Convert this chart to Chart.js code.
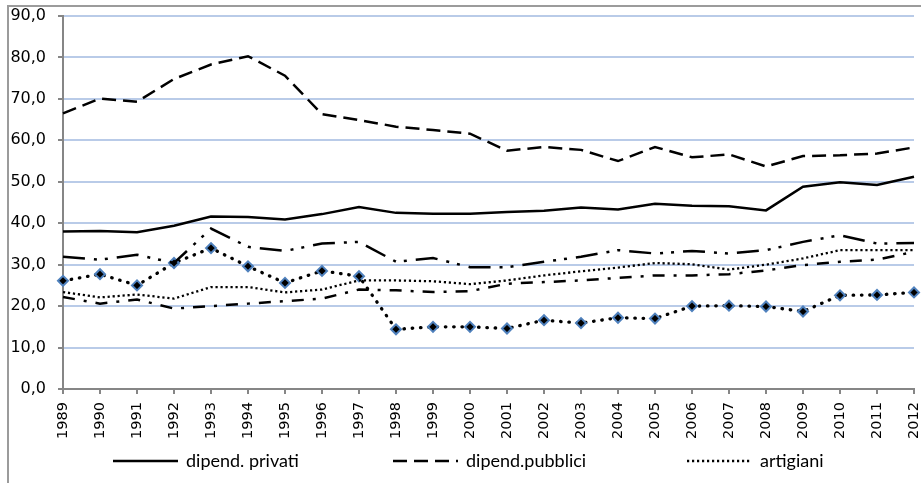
<!DOCTYPE html>
<html>
<head>
<meta charset="utf-8">
<script src="https://cdn.jsdelivr.net/npm/chart.js@4.4.1/dist/chart.umd.min.js"></script>
<style>
  html, body { margin: 0; padding: 0; background: #fff; overflow: hidden; }
  #wrap { position: relative; width: 921px; height: 483px; }
  #frame { position: absolute; left: 7px; top: 5px; width: 1000px; height: 1000px;
           border-top: 2px solid #9b9b9b; border-left: 2px solid #9b9b9b; }
  #myChart { position: absolute; left: 0; top: 0; }
</style>
</head>
<body>
<div id="wrap">
  <div id="frame"></div>
  <canvas id="myChart" width="921" height="483"></canvas>
</div>
<script>
// years on the x axis
var years = ['1989','1990','1991','1992','1993','1994','1995','1996','1997','1998','1999','2000',
             '2001','2002','2003','2004','2005','2006','2007','2008','2009','2010','2011','2012'];

// series
var dipendPrivati  = [38.0, 38.1, 37.8, 39.4, 41.6, 41.5, 40.9, 42.2, 43.9, 42.5, 42.3, 42.3,
                      42.7, 43.0, 43.8, 43.3, 44.7, 44.2, 44.1, 43.1, 48.8, 49.9, 49.2, 51.2];
var dipendPubblici = [66.5, 70.1, 69.3, 74.8, 78.3, 80.3, 75.6, 66.3, 64.9, 63.3, 62.5, 61.6,
                      57.5, 58.4, 57.7, 55.0, 58.4, 55.9, 56.6, 53.7, 56.2, 56.4, 56.8, 58.3];
var artigiani      = [23.4, 22.1, 22.8, 21.8, 24.6, 24.6, 23.3, 24.0, 26.2, 26.2, 26.0, 25.3,
                      26.2, 27.4, 28.4, 29.3, 30.4, 30.1, 28.8, 30.0, 31.5, 33.5, 33.5, 33.5];
var serieDashDotDot = [31.9, 31.2, 32.4, 30.4, 38.7, 34.3, 33.3, 35.1, 35.5, 30.7, 31.6, 29.4,
                       29.4, 30.7, 31.9, 33.5, 32.7, 33.3, 32.7, 33.5, 35.5, 37.1, 35.1, 35.2];
var serieDiamond   = [26.1, 27.7, 25.0, 30.4, 34.0, 29.6, 25.6, 28.5, 27.2, 14.4, 15.0, 15.0,
                      14.6, 16.6, 15.9, 17.2, 17.0, 20.0, 20.1, 19.9, 18.7, 22.6, 22.7, 23.3];
var serieDashDot   = [22.2, 20.6, 21.6, 19.4, 20.0, 20.6, 21.2, 21.8, 24.0, 23.8, 23.4, 23.6,
                      25.4, 25.8, 26.2, 26.8, 27.4, 27.4, 27.7, 28.6, 29.9, 30.7, 31.2, 33.1];

var yTicks = [0, 10, 20, 30, 40, 50, 60, 70, 80, 90];

// legend at the bottom (only the first row shows in the picture)
var legendShown = [0, 1, 2];
var legendX = [113, 393, 687];
var legendY = 461;

var bottomLegend = {
  id: 'bottomLegend',
  afterDraw: function(chart) {
    var ctx = chart.ctx;
    legendShown.forEach(function(idx, i) {
      var ds = chart.data.datasets[idx];
      var x = legendX[i];
      ctx.save();
      ctx.strokeStyle = ds.borderColor;
      ctx.lineWidth = ds.borderWidth;
      ctx.lineCap = ds.borderCapStyle || 'butt';
      ctx.setLineDash(ds.borderDash || []);
      ctx.beginPath();
      ctx.moveTo(x, legendY);
      ctx.lineTo(x + 65, legendY);
      ctx.stroke();
      ctx.setLineDash([]);
      ctx.fillStyle = '#000';
      ctx.font = '18px Lato';
      ctx.textBaseline = 'middle';
      ctx.fillText(ds.label, x + 73, legendY);
      ctx.restore();
    });
  }
};

var ctx = document.getElementById('myChart').getContext('2d');
var chart = new Chart(ctx, {
  type: 'line',
  data: {
    labels: years,
    datasets: [
      { label: 'dipend. privati', data: dipendPrivati, borderColor: '#000', borderWidth: 2.5,
        pointRadius: 0, tension: 0 },
      { label: 'dipend.pubblici', data: dipendPubblici, borderColor: '#000', borderWidth: 2.5,
        borderDash: [14, 7], pointRadius: 0, tension: 0 },
      { label: 'artigiani', data: artigiani, borderColor: '#000', borderWidth: 2.3,
        borderDash: [2.2, 2.8], pointRadius: 0, tension: 0 },
      { label: 'serie 4', data: serieDashDotDot, borderColor: '#000', borderWidth: 2.5,
        borderDash: [22, 9, 3, 8, 3, 9], pointRadius: 0, tension: 0 },
      { label: 'serie 5', data: serieDiamond, borderColor: '#000', borderWidth: 3.3,
        borderDash: [0.5, 7.8], borderCapStyle: 'round', tension: 0,
        pointStyle: 'rectRot', pointRadius: 5, pointBackgroundColor: '#000',
        pointBorderColor: '#4f81bd', pointBorderWidth: 2 },
      { label: 'serie 6', data: serieDashDot, borderColor: '#000', borderWidth: 2.5,
        borderDash: [12, 9, 3, 9], pointRadius: 0, tension: 0 }
    ]
  },
  options: {
    responsive: false,
    devicePixelRatio: 1,
    animation: false,
    layout: { padding: { top: 16, right: 7, bottom: 36.1, left: 7 } },
    plugins: {
      legend: { display: false },
      tooltip: { enabled: false }
    },
    scales: {
      x: {
        offset: false,
        // drop the extra room chart.js keeps for the end labels
        afterFit: function(scale) { scale.paddingLeft = 0; scale.paddingRight = 0; },
        grid: { display: true, drawOnChartArea: false, drawTicks: true, tickLength: 5,
                tickColor: '#868686', lineWidth: 2 },
        border: { display: true, color: '#868686', width: 2 },
        ticks: { autoSkip: false, minRotation: 90, maxRotation: 90, padding: 8, color: '#000',
                 font: { family: 'DejaVu Sans', size: 14.5 } }
      },
      y: {
        min: 0, max: 90,
        afterFit: function(scale) {
          scale.width = 56;
          scale.paddingTop = 0;
          scale.paddingBottom = 0;
        },
        afterBuildTicks: function(scale) {
          scale.ticks = yTicks.map(function(v) { return { value: v }; });
        },
        grid: { color: '#b9cbe8', lineWidth: 2, drawTicks: true, tickLength: 5, tickColor: '#868686' },
        border: { display: true, color: '#868686', width: 2 },
        ticks: { padding: 12, color: '#000', font: { family: 'DejaVu Sans', size: 16 },
                 callback: function(v) { return v.toFixed(1).replace('.', ','); } }
      }
    }
  },
  plugins: [bottomLegend]
});
</script>
</body>
</html>
